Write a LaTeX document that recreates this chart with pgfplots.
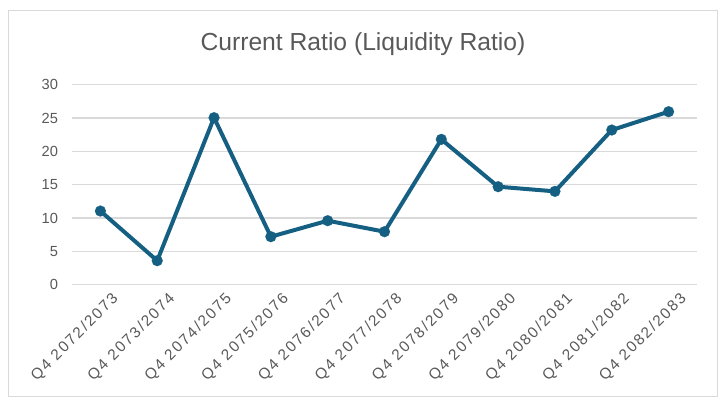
\documentclass[border=0pt]{standalone}
\usepackage{pgfplots}
\pgfplotsset{compat=1.18}
\usepackage{fontspec}
\setmainfont{Liberation Sans}
\newfontfamily\xlabfont[LetterSpace=12]{Liberation Sans}
\definecolor{linec}{HTML}{156082}
\definecolor{gridc}{HTML}{D9D9D9}
\definecolor{txtc}{HTML}{595959}
\begin{document}
\begin{tikzpicture}
\path[use as bounding box] (-54pt,-90.975pt) rectangle (489pt,213.525pt);
\draw[gridc, line width=0.75pt] (-47.25pt,-84.2pt) rectangle (483.75pt,206pt);
\begin{axis}[
  at={(0,0)}, anchor=south west,
  scale only axis,
  width=468.75pt, height=150pt,
  xmin=-0.5, xmax=10.5, ymin=0, ymax=30,
  ytick={0,5,...,30},
  xtick={0,...,10},
  xticklabels={Q4 2072/2073,Q4 2073/2074,Q4 2074/2075,Q4 2075/2076,Q4 2076/2077,Q4 2077/2078,Q4 2078/2079,Q4 2079/2080,Q4 2080/2081,Q4 2081/2082,Q4 2082/2083},
  x tick label style={rotate=45, anchor=north east, font=\xlabfont\fontsize{11.5}{13}\selectfont, text=txtc, inner sep=0pt, xshift=2pt, yshift=-9pt},
  y tick label style={font=\fontsize{11}{13}\selectfont, text=txtc},
  /pgf/number format/assume math mode=true,
  axis line style={draw=none},
  major tick length=0pt,
  ymajorgrids,
  grid style={gridc, line width=0.9pt},
  yticklabel style={xshift=-7pt},
  clip=false,
]
\addplot[linec, line width=3pt, mark=*, mark size=4.1pt, mark options={fill=linec, draw=linec, line width=0.1pt}] coordinates {
(0,11.05) (1,3.6) (2,25.05) (3,7.2) (4,9.6) (5,7.95) (6,21.8) (7,14.7) (8,14.0) (9,23.2) (10,25.95)
};
\end{axis}
\node[text=txtc, font=\fontsize{18.5}{21}\selectfont] at (218.25pt,180.5pt) {Current Ratio (Liquidity Ratio)};
\end{tikzpicture}
\end{document}
